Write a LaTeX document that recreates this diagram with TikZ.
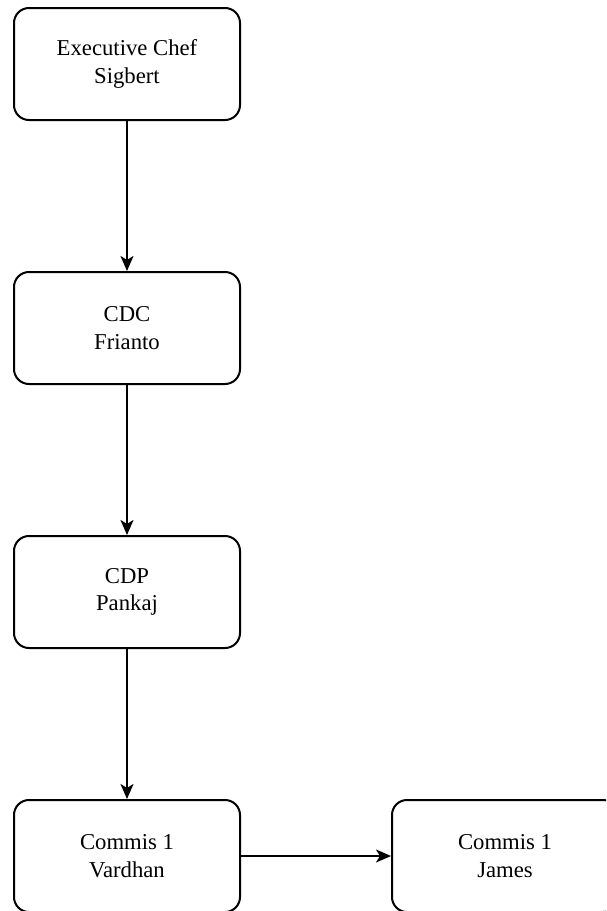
\documentclass[tikz,border=0pt]{standalone}
\usepackage{fontspec}
\setmainfont{Liberation Serif}
\usepackage{tikz}
\usetikzlibrary{arrows.meta, positioning}

\newcommand{\boxfont}{\fontsize{22.7}{27.5}\selectfont}

\begin{document}
\begin{tikzpicture}[
  x=1pt, y=-1pt,
  arr/.style={line width=2pt, -{Stealth[length=15pt, width=13pt, inset=4pt]}},
  box/.style={draw, rounded corners=15pt, line width=2pt,
    minimum width=226pt, minimum height=112pt, align=center,
    font=\boxfont}
]
  \useasboundingbox (0,0) rectangle (606,911);
  \clip (0,0) rectangle (606,911);
  % kitchen brigade, top to bottom
  \foreach \name/\role/\who [count=\k from 0] in
    {exec/Executive Chef/Sigbert, cdc/CDC/Frianto,
     cdp/CDP/Pankaj, comA/Commis 1/Vardhan} {
    \node[box] (\name) at (127, 64+\k*264) {\role\\\who};
  }
  \node[box] (comB) at (505, 856) {Commis 1\\James};

  \draw[arr] (exec) -- (cdc);
  \draw[arr] (cdc) -- (cdp);
  \draw[arr] (cdp) -- (comA);
  \draw[arr] (comA) -- (comB);
\end{tikzpicture}
\end{document}
